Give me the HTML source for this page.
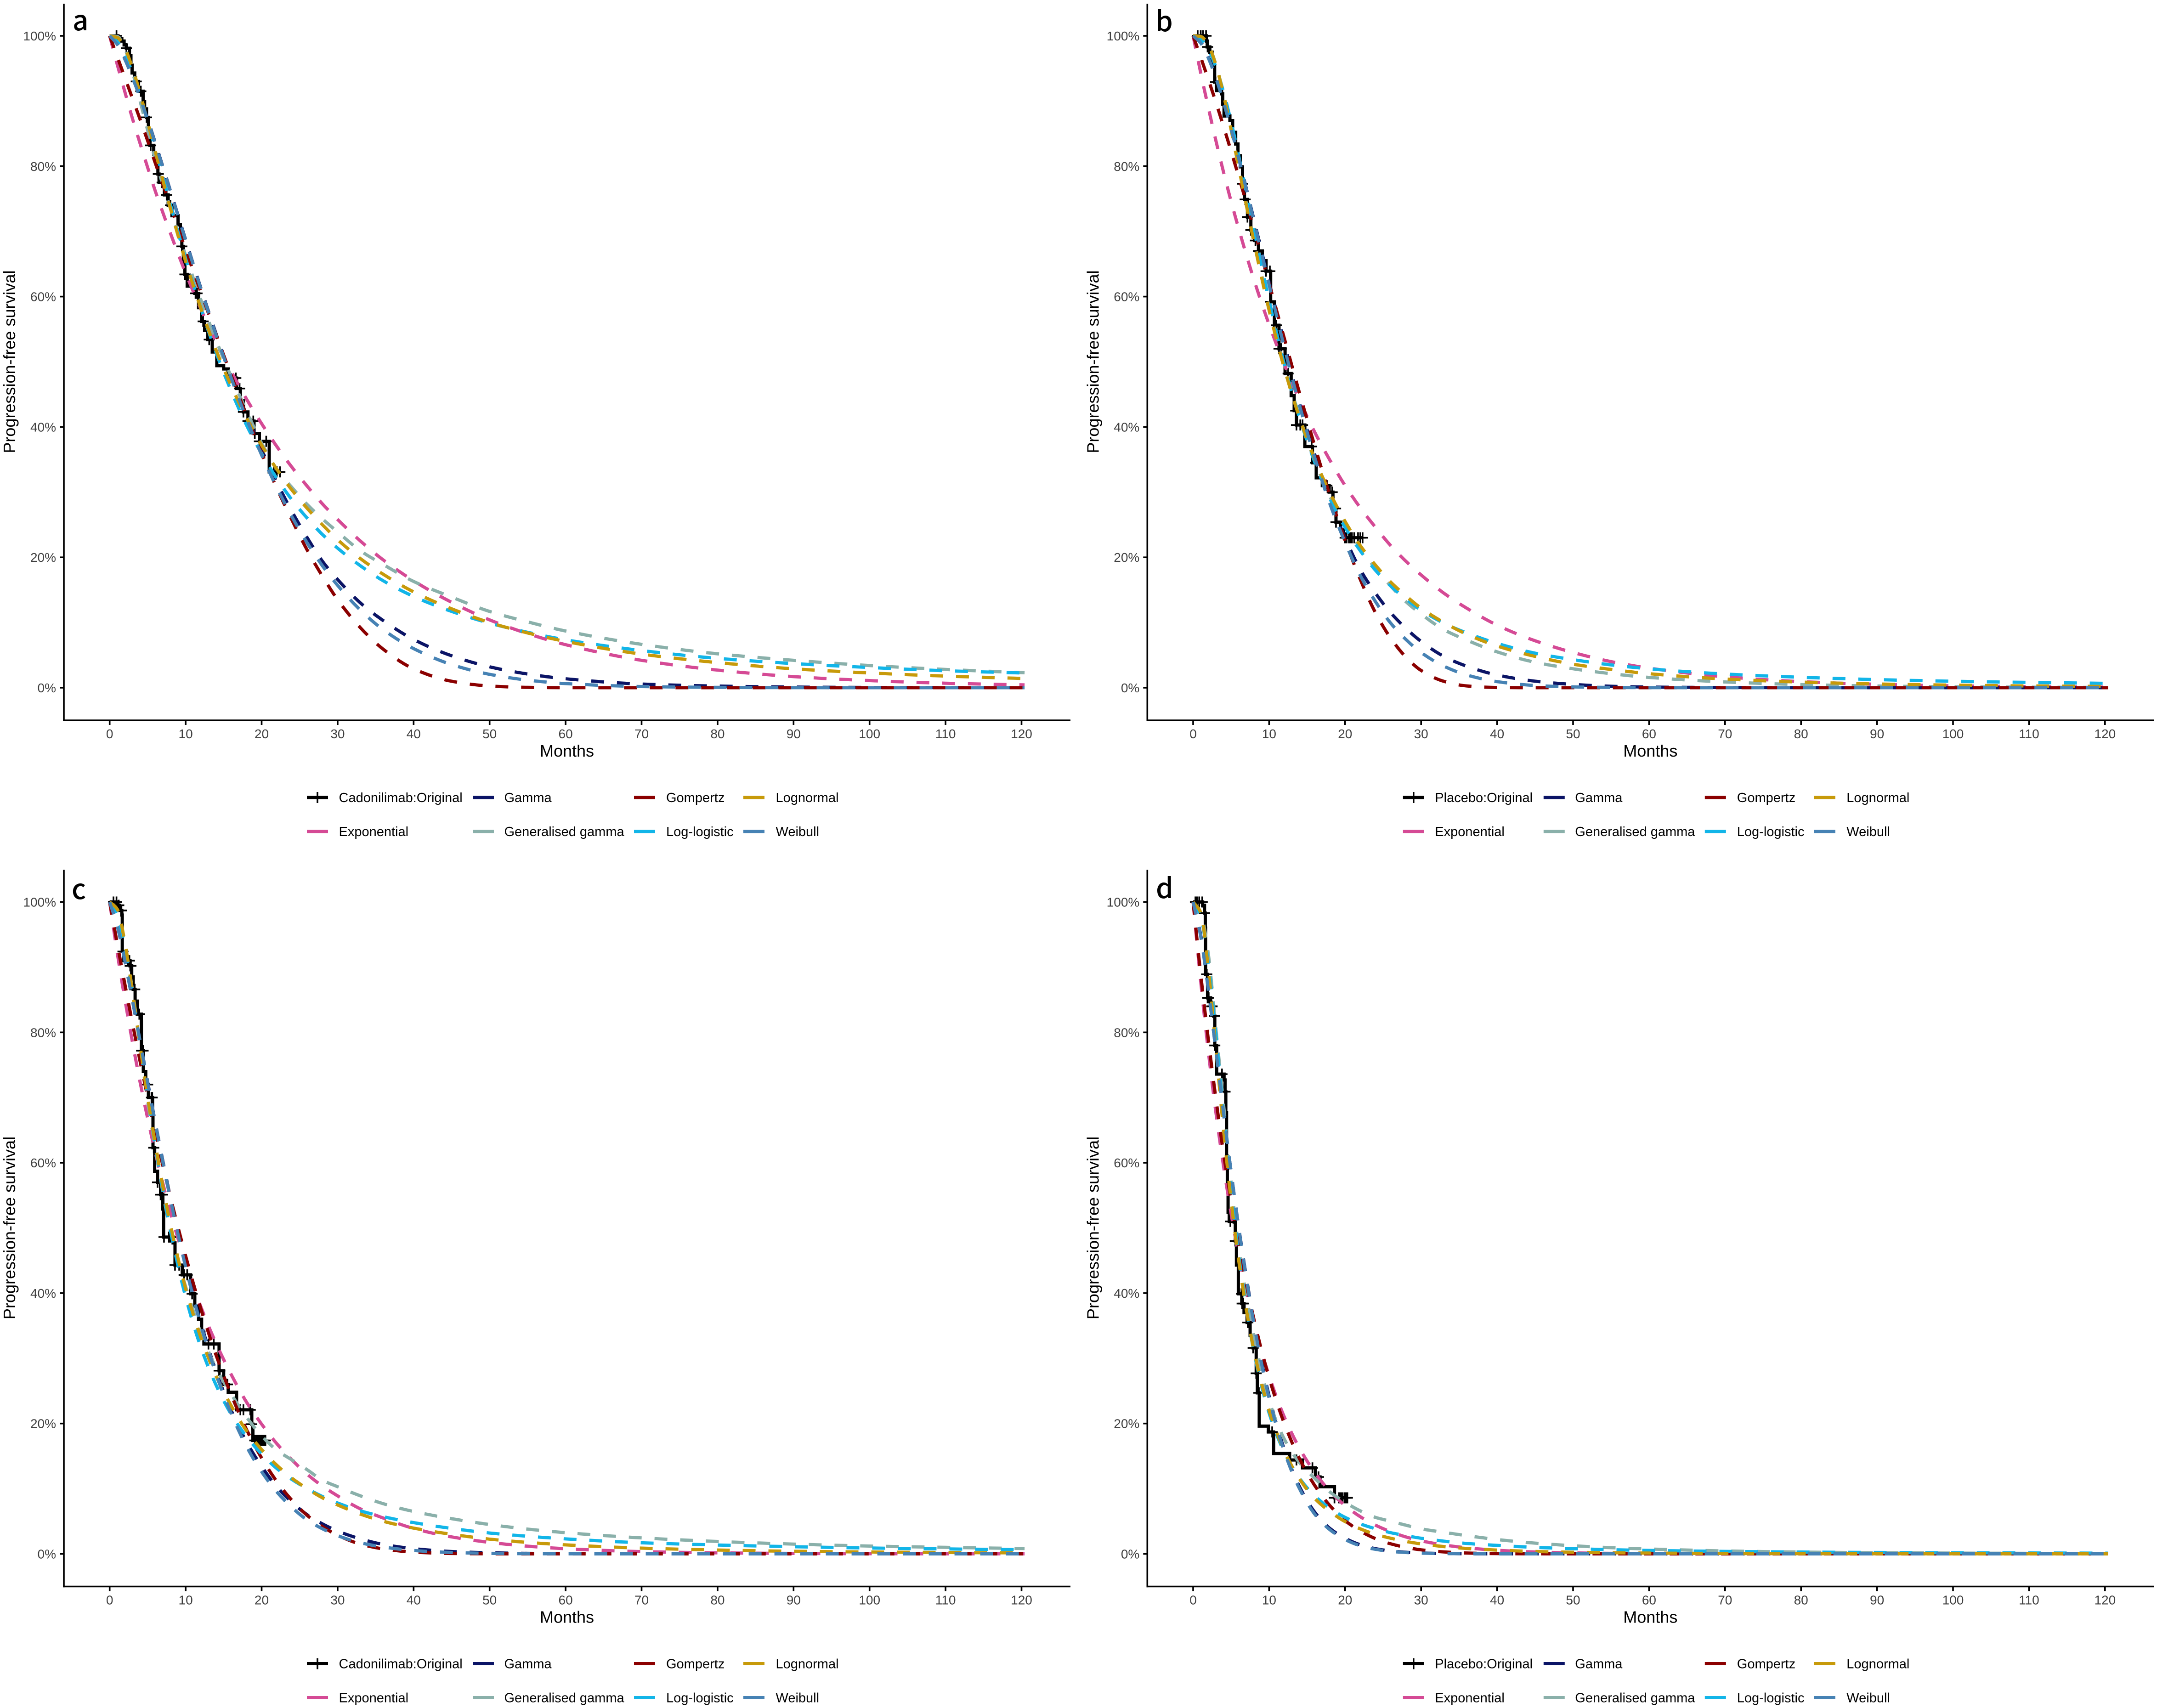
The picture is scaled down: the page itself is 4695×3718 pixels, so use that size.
<!DOCTYPE html>
<html lang="en">
<head>
<meta charset="utf-8">
<title>Progression-free survival model fits</title>
<style>
html,body{margin:0;padding:0;background:#fff;}
svg{display:block;font-family:"Liberation Sans",Arial,sans-serif;}
</style>
</head>
<body>
<svg id="chart" xmlns="http://www.w3.org/2000/svg" width="4695" height="3718" viewBox="0 0 4695 3718"></svg>
<script>
// Shared axis data
const months = [0,1,2,3,4,5,6,8,10,12,14,16,18,20,22,24,26,28,30,33,36,40,45,50,55,60,70,80,90,100,110,120.4];
const monthTicks = [0,10,20,30,40,50,60,70,80,90,100,110,120];
const survivalTicks = [0,20,40,60,80,100];
const seriesLabels = ["Exponential","Gamma","Generalised gamma","Gompertz","Log-logistic","Lognormal","Weibull"];

// Panel a
const aExponential = [100,95.6,91.4,87.3,83.5,79.8,76.2,69.7,63.6,58.1,53.1,48.5,44.3,40.5,37,33.8,30.9,28.2,25.8,22.5,19.6,16.4,13.1,10.4,8.3,6.6,4.2,2.7,1.7,1.09,0.69,0.43];
const aGamma = [100,99,96.7,93.8,90.6,87.2,83.6,76.2,68.7,61.3,54.3,47.8,41.9,36.5,31.5,27,23,19.4,16.6,13,10.3,7.4,4.9,3.2,2.1,1.37,0.56,0.25,0.1,0.04,0.02,0];
const aGenGamma = [100,99.9,98,94.5,90,85.5,81,73.5,66.3,59.5,53.3,47.7,42.5,37.5,33.5,30.7,28.1,25.9,23.9,21,18.9,16.3,13.9,11.7,10.1,8.7,6.65,5.2,4.2,3.4,2.8,2.3];
const aGompertz = [100,96.8,93.6,90.4,87.2,83.9,80.5,73.9,67.2,60.7,54.2,47.9,41.8,36,30.6,25.7,21.1,17.1,13.5,9.2,5.9,2.9,0.99,0.26,0.05,0.01,0,0,0,0,0,0];
const aLogLogistic = [100,99.1,97.1,94.3,90.8,86.9,82.7,74.1,65.8,58.2,51.4,45.5,40.3,35.9,32.1,28.8,26,23.5,21.4,18.7,16.4,14,11.7,9.9,8.5,7.35,5.7,4.5,3.7,3.1,2.6,2.25];
const aLognormal = [100,99.74,98.1,95.05,91.2,86.8,82.3,73.5,65.4,58.2,51.8,46.3,41.4,37.2,33.5,30.3,27.5,25,22.7,19.8,17.4,14.7,12.1,10,8.4,7.1,5.15,3.85,2.9,2.26,1.78,1.41];
const aWeibull = [100,98.7,96.4,93.6,90.5,87.1,83.5,76.1,68.6,61.2,54.1,47.5,41.3,35.7,30.7,26.2,22.2,18.7,15.7,11.9,8.9,6,3.55,2.05,1.16,0.63,0.18,0.05,0.01,0,0,0];
const aKmTimes = [1.1,1.6,1.9,2.2,2.6,2.8,2.95,3.3,3.8,4.4,4.6,4.85,5.1,5.3,5.8,6.2,6.35,6.5,7.2,7.7,8.2,9,9.3,9.5,9.7,9.9,10.2,11.2,11.7,12.1,12.5,12.9,13.5,14.1,15,15.6,16.7,17.2,17.6,18.2,19,19.7,21];
const aKmSurvival = [99.6,99.2,98.6,98.1,97,95.5,94.3,93,91.5,89.9,88.8,87.5,85,83.2,81.8,80.3,78.8,77.5,75.6,74,72.4,71,69,67.7,65.5,63.4,61.6,60.5,58.3,56.2,54.8,53.4,51.5,49.4,48.9,47.5,45.9,44,42.3,40.9,39,37.8,33.1];
const aCensorTimes = [0.9,2.2,3.5,4.1,4.85,5.4,6.4,6.9,7.1,7.5,8,9.5,9.9,10,11.3,11.5,12.3,13.1,16.6,17.1,17.6,18.2,18.9,19.1,19.7,20.6,21.6,22,22.4];

// Panel b
const bExponential = [100,94.3,89,83.9,79.1,74.6,70.4,62.6,55.7,49.6,44.1,39.2,34.9,31,27.6,24.6,21.8,19.4,17.3,14.5,12.2,9.6,7.2,5.4,4,3,1.67,0.93,0.52,0.29,0.16,0.09];
const bGamma = [100,99,96.7,93.6,89.9,85.8,81.3,71.8,62.2,52.9,43.6,35.8,28.9,23,18.1,14.5,11.5,9.1,7.1,4.8,3.3,1.95,1,0.5,0.22,0.1,0.03,0.01,0,0,0,0];
const bGenGamma = [100,99.9,98.6,95.6,91,85.7,80,68.8,58.4,49.4,41.6,34.8,29.3,25.2,21.4,18.3,15.6,13.2,11.3,8.9,7.3,5.5,3.9,2.9,2.15,1.58,0.88,0.48,0.26,0.14,0.08,0.04];
const bGompertz = [100,96.7,93.3,89.8,86.1,82.3,78.4,70.4,62,53.6,45.2,37.1,29.5,22.6,16.6,11.5,7.6,4.7,2.65,0.98,0.27,0.03,0,0,0,0,0,0,0,0,0,0];
const bLogLogistic = [100,99.5,97.9,95.2,91.4,86.8,81.6,70.3,59.4,49.6,41.4,34.6,29,24.6,21,18,15.6,13.6,11.9,9.9,8.4,6.8,5.3,4.3,3.5,2.9,2.1,1.6,1.24,0.99,0.81,0.67];
const bLognormal = [100,99.9,98.6,95.5,91,85.6,79.8,68.4,57.9,49,41.4,35.1,29.9,25.5,21.8,18.8,16.2,14.1,12.2,10,8.2,6.4,4.8,3.6,2.8,2.15,1.33,0.86,0.57,0.39,0.27,0.19];
const bWeibull = [100,98.9,96.6,93.5,89.8,85.7,81.2,71.6,61.8,52.2,43.3,35.3,28.2,22.3,17.2,13.2,9.9,7.4,5.4,3.3,1.95,0.93,0.34,0.12,0.04,0.01,0,0,0,0,0,0];
const bKmTimes = [1.75,1.85,2.2,2.5,2.83,3.1,3.75,3.9,4.07,4.84,5.2,5.6,5.9,6.2,6.5,6.75,7.15,7.6,8.1,8.6,9.1,9.6,10.2,10.7,11.3,12.1,12.9,13.3,13.6,14.7,15.7,16.2,17,17.9,18.4,18.8,19.4,19.8];
const bKmSurvival = [99.2,98.3,97.5,95.5,92.9,91.6,91.1,89.5,87.7,87,85.2,83.4,81.6,79.9,77.3,74.9,72.2,70.2,68.6,67,65.5,63.9,59.2,55.6,52,48.2,44.8,42.5,40.3,37,34.5,32.2,31,30,27.5,25.4,24.2,23];
const bCensorTimes = [0.6,1,1.3,1.7,1.9,2.95,6.5,6.85,7.15,7.6,8.2,8.6,9.6,10.1,10.2,10.95,11.3,11.6,12.5,13.5,13.6,14.1,14.4,15.6,16.1,17.6,18.3,18.75,18.8,20,20.2,20.5,20.7,20.9,21.2,21.7,22,22.3];

// Panel c
const cExponential = [100,92.2,85.1,78.5,72.4,66.8,61.6,52.4,44.6,37.9,32.3,27.5,23.3,19.9,16.9,14.4,12.2,10.4,8.9,6.9,5.5,3.9,2.6,1.76,1.18,0.79,0.35,0.16,0.07,0.03,0.01,0.01];
const cGamma = [100,96.4,91,84.9,78.7,72.4,66.2,54.6,44.2,35.4,28,22,17.2,13.4,10.3,7.9,6,4.6,3.5,2.3,1.45,0.8,0.36,0.17,0.08,0.04,0.01,0,0,0,0,0];
const cGenGamma = [100,98.5,93.5,86.5,78,69.5,62.3,49.5,41,34,28.5,24.5,21,18.1,15.9,14.4,12.9,11.3,10.3,8.9,7.7,6.5,5.4,4.5,3.8,3.25,2.45,1.9,1.5,1.2,1,0.82];
const cGompertz = [100,93.6,87.4,81.4,75.6,70.1,64.7,54.7,45.7,37.6,30.5,24.4,19.1,14.7,11.1,8.2,5.9,4.2,2.85,1.5,0.76,0.27,0.06,0.01,0,0,0,0,0,0,0,0];
const cLogLogistic = [100,97.9,92.8,85.8,78,70.1,62.7,49.6,39.4,31.7,25.9,21.4,18,15.3,13.1,11.4,10,8.8,7.8,6.6,5.7,4.8,3.9,3.2,2.7,2.3,1.7,1.36,1.1,0.9,0.76,0.64];
const cLognormal = [100,98.9,93.8,86.2,78,70.1,62.9,50.5,40.7,33.2,27.3,22.7,18.9,16,13.6,11.6,10,8.6,7.5,6.1,5,3.95,3,2.26,1.76,1.38,0.88,0.59,0.4,0.29,0.21,0.15];
const cWeibull = [100,96.3,91,84.9,78.7,72.3,66.1,54.4,44,35.1,27.6,21.5,16.5,12.6,9.5,7.1,5.2,3.85,2.8,1.7,1.05,0.52,0.21,0.08,0.03,0.01,0,0,0,0,0,0];
const cKmTimes = [0.95,1.3,1.6,1.66,1.87,2.68,2.9,3.1,3.35,3.63,4.16,4.17,4.43,4.75,5.1,5.65,5.7,5.92,6.3,6.7,7,7.1,8.35,8.6,9.55,10.65,11.2,11.7,12.1,12.4,14.4,15,15.6,16.7,18.7,18.85];
const cKmSurvival = [99.5,98.7,98,92.4,91,90.2,88.5,86.6,84.8,82.8,81.6,77.2,74,72,70,67.3,62.3,58.7,57,55.1,52.9,48.6,47.7,44.3,42.8,39.9,38,36,34,32.2,28.1,26,24.8,22.1,19.9,17.4];
const cCensorTimes = [0.5,0.9,1.2,1.5,1.55,1.75,2.4,2.55,2.6,2.7,2.8,3.3,3.9,4.2,4.4,5,5.5,5.6,5.8,6.3,6.7,6.95,7.15,7.8,8,8.3,8.6,9.15,9.8,10.2,10.85,13,13.7,14.4,14.5,15.5,17.2,17.6,18.5,18.7,19.1,19.3,19.5,19.7,19.9,20.1,20.3,20.5];

// Panel d
const dExponential = [100,87.8,77.1,67.7,59.5,52.2,45.8,35.3,27.3,21,16.2,12.5,9.6,7.4,5.7,4.4,3.4,2.6,2,1.37,0.93,0.55,0.29,0.15,0.08,0.04,0.01,0,0,0,0,0];
const dGamma = [100,94.9,86.6,77.2,67.7,58.6,50.1,35.6,24.2,16,10.3,6.4,3.9,2.4,1.4,0.8,0.45,0.25,0.14,0.05,0.02,0,0,0,0,0,0,0,0,0,0,0];
const dGenGamma = [100,98.4,92,80.5,69,57,47,33.5,23.5,17.6,14,11.6,9.5,7.9,6.6,5.6,5,4.4,3.85,3.3,2.8,2.2,1.65,1.25,0.95,0.75,0.45,0.28,0.18,0.12,0.08,0.05];
const dGompertz = [100,88.9,78.9,69.8,61.5,54.1,47.4,36,27,20,14.6,10.5,7.4,5.1,3.5,2.34,1.54,1,0.62,0.3,0.13,0.04,0.01,0,0,0,0,0,0,0,0,0];
const dLogLogistic = [100,97.8,90.5,79.6,67.4,55.9,45.8,31,21.6,15.6,11.6,8.9,7,5.6,4.6,3.85,3.25,2.8,2.4,1.95,1.6,1.3,1,0.8,0.64,0.53,0.38,0.28,0.22,0.17,0.14,0.11];
const dLognormal = [100,98.4,89.7,77.4,65.1,54.2,45,31.2,22,15.8,11.5,8.5,6.5,4.95,3.84,3,2.4,1.9,1.53,1.12,0.83,0.58,0.37,0.25,0.17,0.12,0.06,0.03,0.02,0.01,0.01,0];
const dWeibull = [100,94.7,86.5,77.2,67.7,58.6,50,35.3,23.9,15.7,10,6.1,3.7,2.2,1.25,0.7,0.38,0.21,0.11,0.05,0.02,0.01,0,0,0,0,0,0,0,0,0,0];
const dKmTimes = [1.25,1.5,1.6,1.64,1.9,2.3,2.7,2.85,3.1,4.07,4.2,4.3,4.4,4.5,4.6,4.75,5.4,5.55,5.7,5.95,6.4,6.7,7.1,7.5,7.9,8.3,8.45,8.7,9.9,10.6,12.7,14.4,16.1,16.7,18.6];
const dKmSurvival = [99.5,98.3,96,88.9,85.3,84,82.5,78,73.6,72.7,70.9,67.7,61,56.5,52.4,51,50.9,48,44.3,39.9,38.4,37,35.5,33.5,31.6,27.7,24.7,19.6,18.7,15.4,14.4,13.2,11.8,10.3,8.6];
const dCensorTimes = [0.3,0.5,0.8,1.2,1.5,1.8,1.78,1.9,2.05,2.45,2.5,2.8,2.85,3.8,4.2,4.9,5.55,6.35,6.45,6.6,7.2,7.9,8.3,8.65,10.4,13.6,15.7,16.5,18.6,19.2,19.4,19.6,19.9,20.1,20.3];

const seriesColors = ["#d54a95","#0b1466","#8ab0aa","#8b0000","#12b5e8","#c79a0a","#4682b4"];
const drawOrder = [0,1,2,3,4,5,6];

const panels = [
  {letter:"a",dx:0,dy:0,lx:158,ly:66,arm:"Cadonilimab:Original",shiftFirst:0,shiftRest:0,km:aKmTimes,kmS:aKmSurvival,cen:aCensorTimes,curves:[aExponential,aGamma,aGenGamma,aGompertz,aLogLogistic,aLognormal,aWeibull]},
  {letter:"b",dx:2358.3,dy:0,lx:2515,ly:68,arm:"Placebo:Original",shiftFirst:27.5,shiftRest:-27.5,km:bKmTimes,kmS:bKmSurvival,cen:bCensorTimes,curves:[bExponential,bGamma,bGenGamma,bGompertz,bLogLogistic,bLognormal,bWeibull]},
  {letter:"c",dx:0,dy:1885.5,lx:156,ly:1957,arm:"Cadonilimab:Original",shiftFirst:0,shiftRest:0,km:cKmTimes,kmS:cKmSurvival,cen:cCensorTimes,curves:[cExponential,cGamma,cGenGamma,cGompertz,cLogLogistic,cLognormal,cWeibull]},
  {letter:"d",dx:2358.3,dy:1885.5,lx:2516,ly:1955,arm:"Placebo:Original",shiftFirst:27.5,shiftRest:-27.5,km:dKmTimes,kmS:dKmSurvival,cen:dCensorTimes,curves:[dExponential,dGamma,dGenGamma,dGompertz,dLogLogistic,dLognormal,dWeibull]}
];

const NS = "http://www.w3.org/2000/svg";
const root = document.getElementById("chart");
const xAxis = function(t){ return 238.7 + 16.54 * t; };
const yAxis = function(s){ return 1497 - 14.19 * s; };

function make(parent, tag, attrs, text){
  const el = document.createElementNS(NS, tag);
  for (const k in attrs) el.setAttribute(k, attrs[k]);
  if (text !== undefined) el.textContent = text;
  parent.appendChild(el);
  return el;
}

function smoothPath(xs, ys){
  const n = xs.length, h = [], d = [], m = new Array(n);
  for (let i = 0; i < n - 1; i++){ h[i] = xs[i+1] - xs[i]; d[i] = (ys[i+1] - ys[i]) / h[i]; }
  m[0] = d[0]; m[n-1] = d[n-2];
  for (let i = 1; i < n - 1; i++){
    if (d[i-1] * d[i] <= 0) { m[i] = 0; continue; }
    const w1 = 2 * h[i] + h[i-1], w2 = h[i] + 2 * h[i-1];
    m[i] = (w1 + w2) / (w1 / d[i-1] + w2 / d[i]);
  }
  let p = "M" + xs[0].toFixed(2) + " " + ys[0].toFixed(2);
  for (let i = 0; i < n - 1; i++){
    const c = h[i] / 3;
    p += "C" + (xs[i]+c).toFixed(2) + " " + (ys[i]+m[i]*c).toFixed(2) + " " + (xs[i+1]-c).toFixed(2) + " " + (ys[i+1]-m[i+1]*c).toFixed(2) + " " + xs[i+1].toFixed(2) + " " + ys[i+1].toFixed(2);
  }
  return p;
}

function stepValue(times, values, t){
  let s = 100;
  for (let i = 0; i < times.length; i++){ if (times[i] <= t) s = values[i]; }
  return s;
}

panels.forEach(function(panel){
  const g = make(root, "g", {transform:"translate(" + panel.dx + "," + panel.dy + ")"});
  
  

  // Kaplan-Meier step curve
  const lastCensor = Math.max.apply(null, panel.cen);
  let stepD = "M" + xAxis(0) + " " + yAxis(100);
  panel.km.forEach(function(t, i){
    stepD += "H" + xAxis(t).toFixed(2) + "V" + yAxis(panel.kmS[i]).toFixed(2);
  });
  stepD += "H" + xAxis(lastCensor).toFixed(2);
  const km = make(g, "path", {d:stepD, fill:"none", stroke:"#000", "stroke-width":7, "stroke-linejoin":"miter"});
  
  

  panel.cen.forEach(function(t){
    const cx = xAxis(t), cy = yAxis(stepValue(panel.km, panel.kmS, t));
    const mark = make(g, "path", {d:"M" + (cx-12).toFixed(2) + " " + cy.toFixed(2) + "h24M" + cx.toFixed(2) + " " + (cy-12).toFixed(2) + "v24", fill:"none", stroke:"#000", "stroke-width":3.6});
    
    
  });

  // Fitted parametric curves
  drawOrder.forEach(function(idx){
    const values = panel.curves[idx];
    const line = make(g, "path", {d:smoothPath(months.map(xAxis), values.map(yAxis)), fill:"none", stroke:seriesColors[idx], "stroke-width":7, "stroke-dasharray":"28 28", "stroke-linecap":"butt"});
    
    
  });

  // Axes
  const yLine = make(g, "line", {x1:139, y1:8, x2:139, y2:1569.8, stroke:"#000", "stroke-width":3.6});
  
  
  const xLine = make(g, "line", {x1:137.2, y1:1568, x2:2330, y2:1568, stroke:"#000", "stroke-width":3.6});
  
  

  survivalTicks.forEach(function(v){
    const tick = make(g, "line", {x1:130, y1:yAxis(v), x2:139, y2:yAxis(v), stroke:"#000", "stroke-width":3.6});
    
    
    const lab = make(g, "text", {x:122, y:yAxis(v) + 10, "text-anchor":"end", "font-size":28, fill:"#404040"}, v + "%");
    
    
  });
  monthTicks.forEach(function(v){
    const tick = make(g, "line", {x1:xAxis(v), y1:1568, x2:xAxis(v), y2:1578, stroke:"#000", "stroke-width":3.6});
    
    
    const lab = make(g, "text", {x:xAxis(v), y:1607, "text-anchor":"middle", "font-size":28, fill:"#404040"}, String(v));
    
    
  });

  const xTitle = make(g, "text", {x:1234, y:1647, "text-anchor":"middle", "font-size":36, fill:"#000"}, "Months");
  
  
  const yTitle = make(g, "text", {transform:"translate(33,787.5) rotate(-90)", "text-anchor":"middle", "font-size":36, fill:"#000"}, "Progression-free survival");
  
  

  // Panel letter (absolute coordinates inside the figure)
  const letter = make(root, "text", {x:panel.lx, y:panel.ly, "font-size":60, "font-weight":500, fill:"#000", style:'font-family:"Noto Sans CJK SC","Liberation Sans",sans-serif'}, panel.letter);
  
  

  // Legend
  const legend = make(g, "g", {});
  
  
  const keyX = [668 + panel.shiftFirst, 1029 + panel.shiftRest, 1380 + panel.shiftRest, 1618 + panel.shiftRest];
  const textX = [737.5 + panel.shiftFirst, 1097.5 + panel.shiftRest, 1450 + panel.shiftRest, 1688.5 + panel.shiftRest];
  const rowY = [1736, 1810];
  const entries = [
    {label:panel.arm, c:0, r:0, color:"#000", km:true},
    {label:seriesLabels[1], c:1, r:0, color:seriesColors[1]},
    {label:seriesLabels[3], c:2, r:0, color:seriesColors[3]},
    {label:seriesLabels[5], c:3, r:0, color:seriesColors[5]},
    {label:seriesLabels[0], c:0, r:1, color:seriesColors[0]},
    {label:seriesLabels[2], c:1, r:1, color:seriesColors[2]},
    {label:seriesLabels[4], c:2, r:1, color:seriesColors[4]},
    {label:seriesLabels[6], c:3, r:1, color:seriesColors[6]}
  ];
  entries.forEach(function(e){
    const y = rowY[e.r];
    const key = make(legend, "line", {x1:keyX[e.c], y1:y, x2:keyX[e.c] + 46, y2:y, stroke:e.color, "stroke-width":7});
    
    
    if (e.km){
      const tickMark = make(legend, "line", {x1:keyX[e.c] + 23, y1:y - 12, x2:keyX[e.c] + 23, y2:y + 12, stroke:"#000", "stroke-width":3.6});
      
      
    }
    const label = make(legend, "text", {x:textX[e.c], y:y + 10, "font-size":29, fill:"#000"}, e.label);
    
    
  });
});
</script>
</body>
</html>
